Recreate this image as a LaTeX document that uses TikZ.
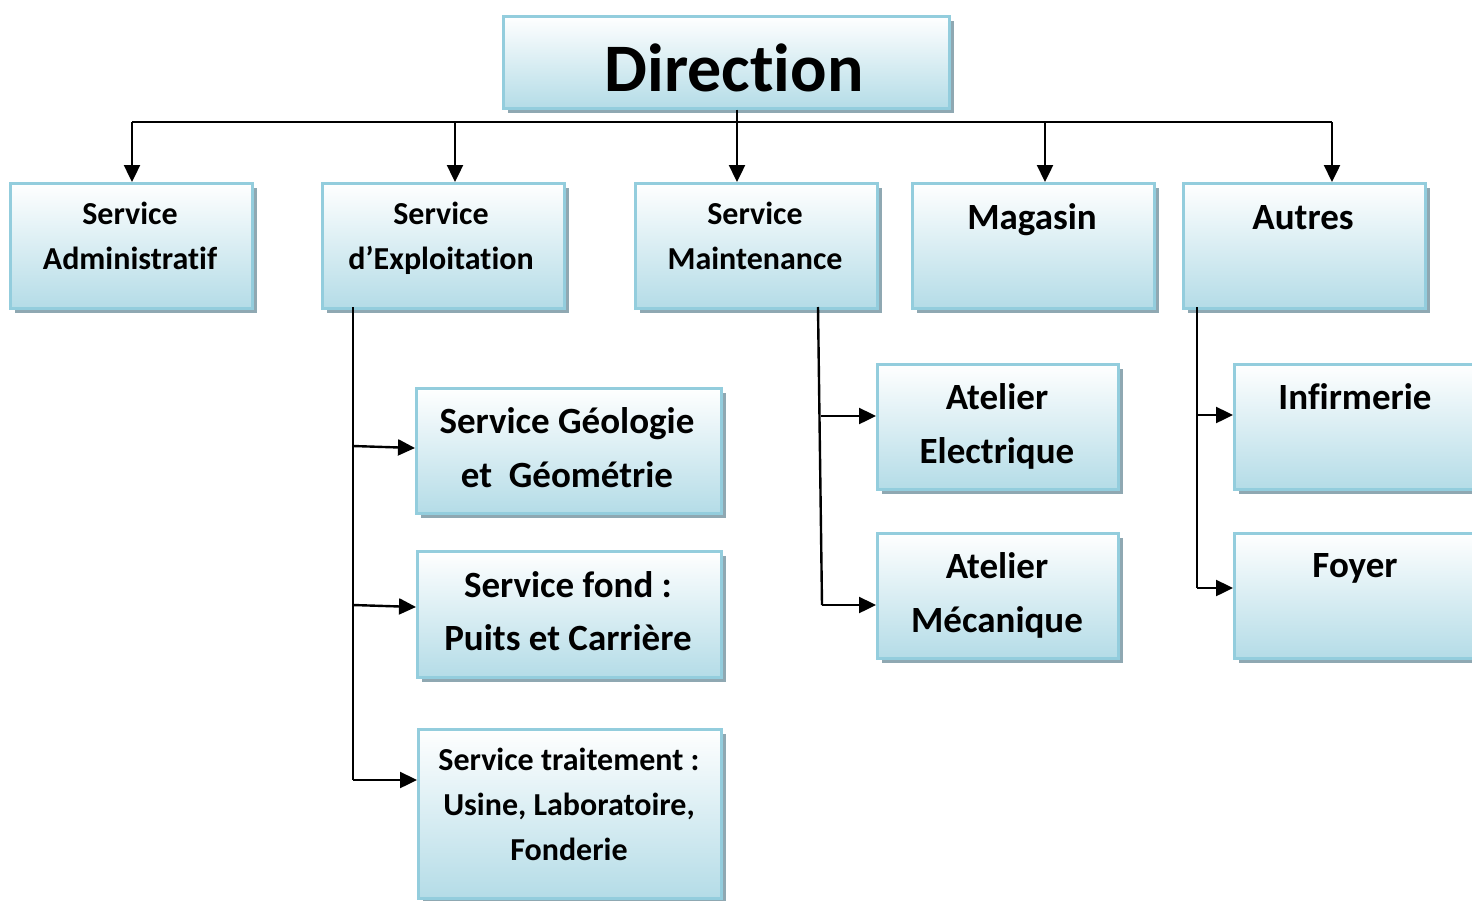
\documentclass[tikz,border=0pt]{standalone}
\usepackage{fontspec}
\setmainfont{Carlito}[Ligatures=NoCommon,RawFeature=-liga]
\usetikzlibrary{shadows,arrows.meta}
\definecolor{boxblue}{HTML}{B4DCE7}
\definecolor{boxedge}{HTML}{93CDDD}
\definecolor{shadowc}{HTML}{8FA8B2}
\tikzset{
  box/.style={draw=boxedge, line width=2.5pt, top color=white, bottom color=boxblue,
    anchor=north west, inner sep=0pt,
    drop shadow={shadow xshift=5pt, shadow yshift=-5pt, fill=shadowc, opacity=1}},
  lbl/.style={anchor=base, inner sep=0pt, font=\bfseries\fontsize{32}{32}\selectfont},
  biglbl/.style={anchor=base, inner sep=0pt, font=\bfseries\fontsize{37}{37}\selectfont},
  toplbl/.style={anchor=base, inner sep=0pt, font=\bfseries\fontsize{68}{68}\selectfont},
  conn/.style={line width=2.4pt, black},
  arr/.style={conn, -{Triangle[length=17pt,width=16pt]}}
}
\begin{document}
\begin{tikzpicture}[x=1pt,y=-1pt]
\clip (0,0) rectangle (1472,900);
\useasboundingbox (0,0) rectangle (1472,900);
% boxes
\node[box, minimum width=446pt, minimum height=92pt] (dir) at (502,15) {};
\node[box, minimum width=242pt, minimum height=125pt] (adm) at (9,182) {};
\node[box, minimum width=242pt, minimum height=125pt] (exp) at (321,182) {};
\node[box, minimum width=242pt, minimum height=125pt] (mai) at (634,182) {};
\node[box, minimum width=242pt, minimum height=125pt] (mag) at (911,182) {};
\node[box, minimum width=242pt, minimum height=125pt] (aut) at (1182,182) {};
\node[box, minimum width=305pt, minimum height=125pt] (geo) at (415,387) {};
\node[box, minimum width=304pt, minimum height=126pt] (fond) at (416,550) {};
\node[box, minimum width=303pt, minimum height=169pt] (trt) at (417,728) {};
\node[box, minimum width=241pt, minimum height=125pt] (ele) at (876,363) {};
\node[box, minimum width=241pt, minimum height=125pt] (mec) at (876,532) {};
\node[box, minimum width=260pt, minimum height=125pt] (inf) at (1233,363) {};
\node[box, minimum width=260pt, minimum height=125pt] (foy) at (1233,532) {};
% labels
\node[toplbl] at (734,91) {Direction};
\node[lbl] at (130,224) {Service};
\node[lbl] at (130,269) {Administratif};
\node[lbl] at (441,224) {Service};
\node[lbl] at (441,269) {d’Exploitation};
\node[lbl] at (755,224) {Service};
\node[lbl] at (755,269) {Maintenance};
\node[biglbl] at (1032,229) {Magasin};
\node[biglbl] at (1303,229) {Autres};
\node[biglbl] at (567,433) {Service Géologie};
\node[biglbl] at (567,487) {et\ \ Géométrie};
\node[biglbl] at (568,597) {Service fond :};
\node[biglbl] at (568,650) {Puits et Carrière};
\node[lbl] at (569,770) {Service traitement :};
\node[lbl] at (569,815) {Usine, Laboratoire,};
\node[lbl] at (569,860) {Fonderie};
\node[biglbl] at (997,409) {Atelier};
\node[biglbl] at (997,463) {Electrique};
\node[biglbl] at (997,578) {Atelier};
\node[biglbl] at (997,632) {Mécanique};
\node[biglbl] at (1355,409) {Infirmerie};
\node[biglbl] at (1355,577) {Foyer};
% top bus
\coordinate (b0) at (737,122);
\coordinate (b1) at (132,122);
\coordinate (b2) at (455,122);
\coordinate (b4) at (1045,122);
\coordinate (b5) at (1332,122);
\draw[conn] (dir.south -| b0) -- (b0);
\draw[conn] (b1) -- (b5);
\draw[arr] (b1) -- (b1 |- adm.north);
\draw[arr] (b2) -- (b2 |- exp.north);
\draw[arr] (b0) -- (b0 |- mai.north);
\draw[arr] (b4) -- (b4 |- mag.north);
\draw[arr] (b5) -- (b5 |- aut.north);
% exploitation branch
\coordinate (e0) at (353,307);
\coordinate (e1) at (353,446);
\coordinate (e2) at (353,605);
\coordinate (e3) at (353,780);
\draw[conn] (e0) -- (e3);
\draw[arr] (e1) -- (geo.west |- 0,448);
\draw[arr] (e2) -- (fond.west |- 0,607);
\draw[arr] (e3) -- (trt.west |- 0,780);
% maintenance branch
\coordinate (m0) at (818,307);
\coordinate (m1) at (821,416);
\coordinate (m2) at (822,605);
\draw[conn] (m0) -- (m2);
\draw[arr] (m1) -- (ele.west |- 0,416);
\draw[arr] (m2) -- (mec.west |- 0,605);
% autres branch
\coordinate (a0) at (1197,307);
\coordinate (a1) at (1197,415);
\coordinate (a2) at (1197,588);
\draw[conn] (a0) -- (a2);
\draw[arr] (a1) -- (inf.west |- 0,415);
\draw[arr] (a2) -- (foy.west |- 0,588);
\end{tikzpicture}
\end{document}
